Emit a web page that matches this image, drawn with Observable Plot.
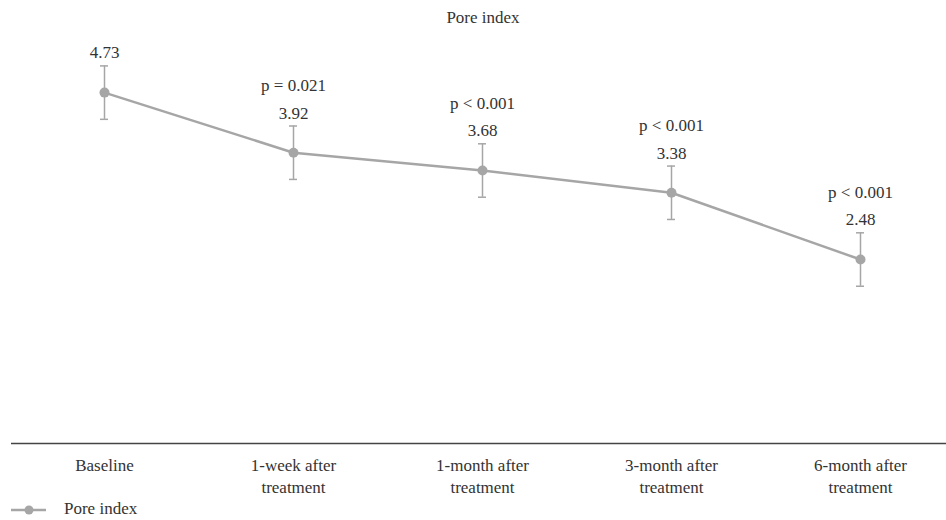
<!DOCTYPE html>
<html>
<head>
<meta charset="utf-8">
<script src="https://cdn.jsdelivr.net/npm/d3@7"></script>
<script src="https://cdn.jsdelivr.net/npm/@observablehq/plot@0.6"></script>
<style>
  html, body { margin: 0; padding: 0; background: #fff; }
  #wrap { width: 946px; height: 520px; position: relative; font-family: "Liberation Serif", "DejaVu Serif", serif; color: #333; }
  #title { height: 34px; margin-left: 20px; width: 926px; text-align: center; font-size: 17px; line-height: 34px; padding-top: 1px; box-sizing: border-box; }
  #legend { height: 22px; position: relative; font-size: 17px; }
  #legend svg { position: absolute; left: 0; top: 0; }
  #legend span { position: absolute; left: 64px; top: 0px; line-height: 22px; }
  #chart svg, #chart svg text { font-family: "Liberation Serif", "DejaVu Serif", serif !important; }
</style>
</head>
<body>
<div id="wrap">
  <div id="title">Pore index</div>
  <div id="chart"></div>
  <div id="legend">
    <svg width="60" height="22"><line x1="11" x2="46" y1="12" y2="12" stroke="#a6a6a6" stroke-width="2.5"></line><circle cx="29" cy="12" r="4.5" fill="#a6a6a6"></circle></svg>
    <span>Pore index</span>
  </div>
</div>
<script>
const categories = ["Baseline", "1-week after\ntreatment", "1-month after\ntreatment", "3-month after\ntreatment", "6-month after\ntreatment"];
const means = [4.73, 3.92, 3.68, 3.38, 2.48];
const sds = [0.36, 0.36, 0.36, 0.36, 0.36];
const pLabels = ["", "p = 0.021", "p < 0.001", "p < 0.001", "p < 0.001"];

const data = categories.map((c, i) => ({cat: c, mean: means[i], sd: sds[i], p: pLabels[i]}));
const gray = "#a6a6a6";
const serif = "'Liberation Serif', 'DejaVu Serif', serif";

const chart = Plot.plot({
  width: 946,
  height: 464,
  marginLeft: 11,
  marginRight: 0,
  marginTop: 1,
  marginBottom: 55,
  style: {fontFamily: serif, fontSize: "17px", color: "#333", background: "#fff"},
  x: {type: "band", domain: categories, range: [100, 864], paddingInner: 0.9577, paddingOuter: 0},
  y: {domain: [0, 5.5], axis: null},
  marks: [
    Plot.ruleY([0], {stroke: "#444", strokeWidth: 1.5}),
    Plot.axisX({tickSize: 0, tickPadding: 12, lineHeight: 1.3, fill: "#333", fontSize: 17, fontFamily: serif, label: null}),
    Plot.ruleX(data, {x: "cat", y1: d => d.mean - d.sd, y2: d => d.mean + d.sd, stroke: gray, strokeWidth: 1.5}),
    Plot.tickY(data, {x: "cat", y: d => d.mean + d.sd, stroke: gray, strokeWidth: 1.5}),
    Plot.tickY(data, {x: "cat", y: d => d.mean - d.sd, stroke: gray, strokeWidth: 1.5}),
    Plot.line(data, {x: "cat", y: "mean", stroke: gray, strokeWidth: 2.5}),
    Plot.dot(data, {x: "cat", y: "mean", r: 5, fill: gray, stroke: "none"}),
    Plot.text(data, {x: "cat", y: d => d.mean + d.sd, text: d => d.mean.toFixed(2), lineAnchor: "bottom", dy: -7.5, fill: "#333", fontSize: 17, fontFamily: serif}),
    Plot.text(data, {x: "cat", y: d => d.mean + d.sd, text: "p", lineAnchor: "bottom", dy: -35, fill: "#333", fontSize: 17, fontFamily: serif})
  ]
});
document.getElementById("chart").appendChild(chart);
</script>
</body>
</html>
